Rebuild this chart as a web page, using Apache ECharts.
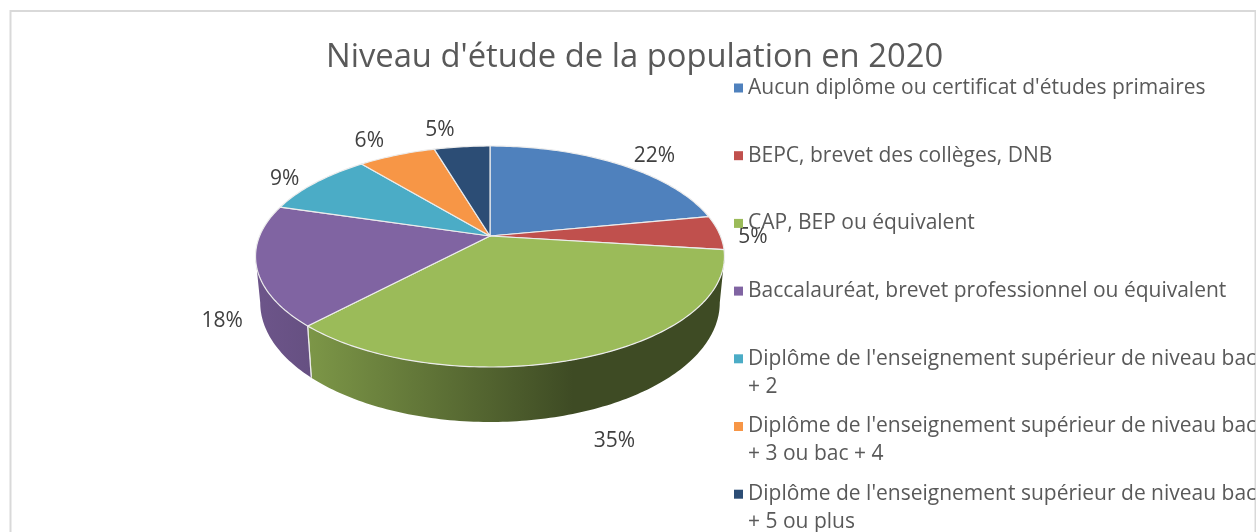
<!DOCTYPE html>
<html>
<head>
<meta charset="utf-8">
<style>html,body{margin:0;padding:0;background:#fff;overflow:hidden}#c{width:1256px;height:532px}</style>
<script src="https://cdn.jsdelivr.net/npm/echarts@6/dist/echarts.min.js"></script>
</head>
<body>
<div id="c"></div>
<script>
const titleText = "Niveau d'étude de la population en 2020";
const categories = [
  "Aucun diplôme ou certificat d'études primaires",
  "BEPC, brevet des collèges, DNB",
  "CAP, BEP ou équivalent",
  "Baccalauréat, brevet professionnel ou équivalent",
  "Diplôme de l'enseignement supérieur de niveau bac + 2",
  "Diplôme de l'enseignement supérieur de niveau bac + 3 ou bac + 4",
  "Diplôme de l'enseignement supérieur de niveau bac + 5 ou plus"
];
const values = [22, 5, 35, 17.6, 9.4, 6.4, 4.6];
const colors = ['#4f81bd', '#c0504d', '#9bbb59', '#8064a2', '#4bacc6', '#f79646', '#2c4d75'];
// label offset from the rim point at each slice's middle angle
const labelNudges = [[36, -8], [34, 4], [30, 83], [-34, 56], [-31, -4], [-27.5, -13.6], [-22, -17]];

const FONT = '"Open Sans", "Noto Sans", sans-serif';
// perspective pie geometry
const CX = 490, CY = 236, A = 230.4, B = 106.7, P = 0.1855;
const DEPTH = 44.5, BOTTOM_SX = 0.98, BOTTOM_SY = 1.08;
const total = values.reduce((s, v) => s + v, 0);
const RIM = '#ececec';

function rad(d) { return d * Math.PI / 180; }
function topPt(th) {
  const s = Math.sin(rad(th)), c = Math.cos(rad(th)), d = 1 + P * c;
  return [CX + A * s / d, CY - B * c / d];
}
function bottomPt(th) {
  const s = Math.sin(rad(th)), c = Math.cos(rad(th)), d = 1 + P * c;
  return [CX + BOTTOM_SX * A * s / d, CY + DEPTH - BOTTOM_SY * B * c / d];
}
function arc(from, to, fn) {
  const pts = [], n = Math.max(2, Math.ceil(Math.abs(to - from)));
  for (let i = 0; i <= n; i++) pts.push(fn(from + (to - from) * i / n));
  return pts;
}
function shade(hex, f) {
  const n = parseInt(hex.slice(1), 16);
  const r = Math.round((n >> 16 & 255) * f), g = Math.round((n >> 8 & 255) * f), b = Math.round((n & 255) * f);
  return `rgb(${r},${g},${b})`;
}
const VIS0 = Math.acos(-P) * 180 / Math.PI, VIS1 = 360 - VIS0;

function renderSlice(params, api) {
  const i = params.seriesIndex;
  const before = values.slice(0, i).reduce((s, v) => s + v, 0);
  const value = api.value(0);
  const t0 = before / total * 360, t1 = (before + value) / total * 360;
  const children = [];
  const a0 = Math.max(t0, VIS0), a1 = Math.min(t1, VIS1);
  if (a1 > a0) {
    const pts = arc(a0, a1, topPt).concat(arc(a1, a0, bottomPt));
    children.push({
      type: 'polygon', shape: { points: pts },
      style: {
        fill: {
          type: 'linear', x: 255, y: 0, x2: 724, y2: 0, global: true,
          colorStops: [
            { offset: 0, color: shade(colors[i], 0.85) },
            { offset: 0.117, color: shade(colors[i], 0.8) },
            { offset: 0.678, color: shade(colors[i], 0.4) },
            { offset: 1, color: shade(colors[i], 0.4) }
          ]
        }
      }
    });
    [t0, t1].forEach(t => {
      if (t > VIS0 && t < VIS1) {
        children.push({ type: 'polyline', shape: { points: [topPt(t), bottomPt(t)] }, style: { stroke: RIM, lineWidth: 1.2, fill: null } });
      }
    });
  }
  children.push({
    type: 'polygon', shape: { points: [[CX, CY]].concat(arc(t0, t1, topPt)) },
    style: { fill: colors[i], stroke: RIM, lineWidth: 1.2, lineJoin: 'round' }
  });
  const rimPoint = topPt((t0 + t1) / 2);
  children.push({
    type: 'text', z2: 50,
    style: {
      text: Math.round(value / total * 100) + '%',
      x: rimPoint[0] + labelNudges[i][0], y: rimPoint[1] + labelNudges[i][1],
      fill: '#404040', font: '21px ' + FONT, align: 'center', verticalAlign: 'middle'
    }
  });
  return { type: 'group', children };
}

function legendLabel(name) {
  const lines = name.replace(/(niveau bac) /, '$1\n').split('\n');
  return ' \n' + lines[0] + '\n' + (lines[1] || ' ');
}

const chart = echarts.init(document.getElementById('c'), null, { renderer: 'canvas' });
chart.setOption({
  animation: false,
  backgroundColor: '#ffffff',
  title: {
    text: titleText, left: 321, top: 36,
    textStyle: { fontFamily: FONT, fontSize: 32.75, fontWeight: 'normal', color: '#595959' }
  },
  legend: {
    orient: 'vertical', left: 734, top: 46, height: 800, padding: 0,
    icon: 'rect', itemWidth: 9, itemHeight: 9, itemGap: -16.3, selectedMode: false,
    data: categories, formatter: legendLabel,
    textStyle: { fontFamily: FONT, fontSize: 21, color: '#595959', lineHeight: 28 }
  },
  graphic: [{
    type: 'rect', silent: true, z: -1,
    shape: { x: 10.5, y: 11, width: 1245, height: 600 },
    style: { fill: 'none', stroke: '#d9d9d9', lineWidth: 2 }
  }],
  series: categories.map((name, i) => ({
    type: 'custom', name, coordinateSystem: 'none', silent: true,
    itemStyle: { color: colors[i] },
    renderItem: renderSlice,
    data: [[values[i]]]
  }))
});
</script>
</body>
</html>
